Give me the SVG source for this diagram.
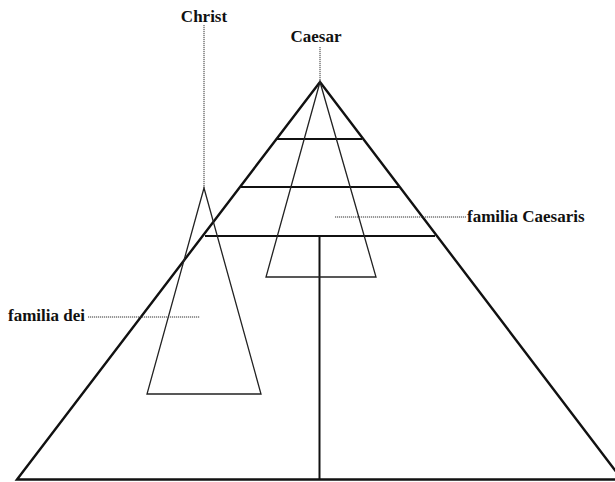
<svg xmlns="http://www.w3.org/2000/svg" width="615" height="482" viewBox="0 0 615 482">
<style>
.lbl{font-family:"Liberation Serif","Times New Roman",serif;font-weight:bold;font-size:17px;fill:#111}
.thick{stroke:#111;stroke-width:2.4;fill:none;stroke-linejoin:miter}
.mid{stroke:#111;stroke-width:2;fill:none}
.thin{stroke:#222;stroke-width:1.3;fill:none}
.dot{stroke:#333;stroke-width:1;stroke-dasharray:1.2 0.8;fill:none}
</style>
<rect width="615" height="482" fill="#fff"/>
<g id="pyramid">
<path class="thick" d="M17,479.5 L320,82 L622,479.5 Z"/>
<line class="mid" x1="277" y1="139" x2="362" y2="139"/>
<line class="mid" x1="241" y1="187" x2="399" y2="187"/>
<line class="mid" x1="205" y1="236" x2="435" y2="236"/>
<line class="mid" x1="319.5" y1="236" x2="319.5" y2="479"/>
</g>
<g id="caesar-triangle">
<path class="thin" d="M320,82 L266,277 L376,277 Z"/>
</g>
<g id="christ-triangle">
<path class="thin" d="M204,188 L147,394 L261,394 Z"/>
</g>
<g id="connectors">
<line class="dot" x1="204" y1="25" x2="204" y2="188"/>
<line class="dot" x1="320" y1="47" x2="320" y2="82"/>
<line class="dot" x1="88" y1="317" x2="200" y2="317"/>
<line class="dot" x1="335" y1="217" x2="466" y2="217"/>
</g>
<g id="christ"><text class="lbl" x="204" y="22" text-anchor="middle">Christ</text></g>
<g id="caesar"><text class="lbl" x="316" y="42" text-anchor="middle">Caesar</text></g>
<g id="familia-dei"><text class="lbl" x="8" y="321">familia dei</text></g>
<g id="familia-caesaris"><text class="lbl" x="467" y="222">familia Caesaris</text></g>
</svg>
